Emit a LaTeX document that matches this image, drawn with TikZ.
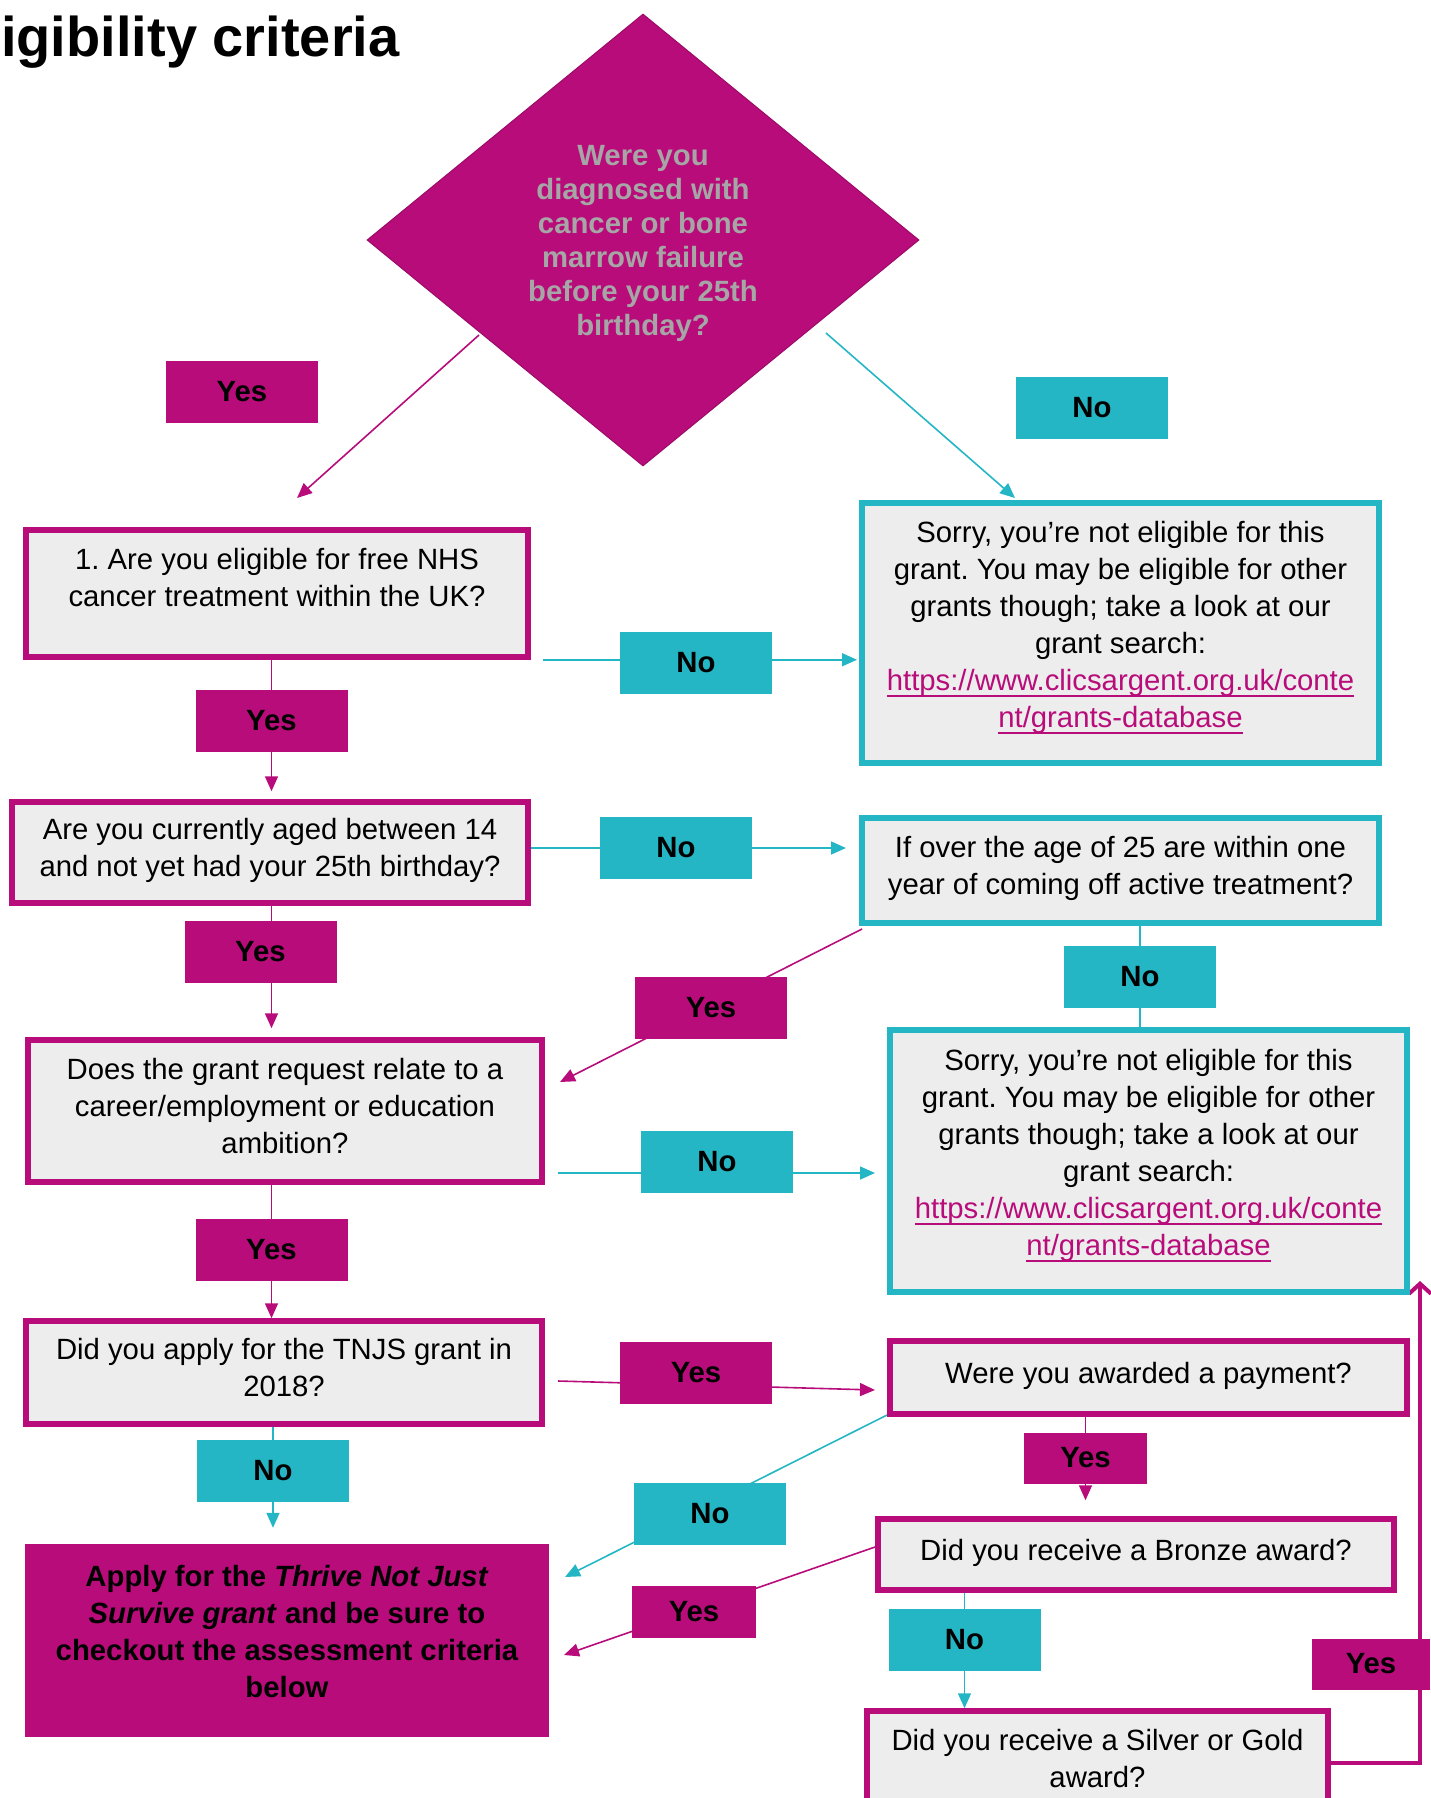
\documentclass[tikz,border=0pt]{standalone}
\usepackage{fontspec}
\setmainfont{Liberation Sans}
\usepackage{xcolor}
\usepackage{tikz}
\usetikzlibrary{arrows.meta,shapes.geometric}
\definecolor{brandmag}{HTML}{B80C7A}
\definecolor{brandcyan}{HTML}{24B6C4}
\definecolor{boxfill}{HTML}{EDEDED}
\definecolor{qgrey}{HTML}{A6A6A6}
\pgfdeclarelayer{back}
\pgfsetlayers{back,main}
\frenchspacing
\newcommand{\bodyfont}{\fontsize{29.3}{37}\selectfont}
\newcommand{\labfont}{\fontsize{29.3}{35}\selectfont\bfseries}
\newcommand{\diafont}{\fontsize{29.3}{34}\selectfont\bfseries}
\newcommand{\headfont}{\fontsize{56}{60}\selectfont\bfseries}
\newcommand{\weblink}[1]{\textcolor{brandmag}{\setbox0\hbox{#1}\rlap{\rule[-7pt]{\wd0}{2.6pt}}\box0}}
\tikzset{
  qbox/.style={draw=brandmag, line width=5.5pt, fill=boxfill, align=center, inner sep=0pt,
    font=\bodyfont, text depth=10pt},
  sorry/.style={qbox, draw=brandcyan, line width=6pt, text depth=18pt},
  endbox/.style={fill=brandmag, align=center, inner sep=0pt, font=\bodyfont\bfseries, text depth=18pt},
  yeslab/.style={fill=brandmag, minimum width=152pt, minimum height=62pt, inner sep=0pt, font=\labfont},
  nolab/.style={yeslab, fill=brandcyan},
  yesline/.style={draw=brandmag, line width=1.6pt, -{Triangle[length=15pt,width=13pt]}},
  noline/.style={draw=brandcyan, line width=1.6pt, -{Triangle[length=15pt,width=13pt]}},
  backline/.style={draw=brandmag, line width=4pt, -{Straight Barb[length=10pt,width=22pt]}},
  decision/.style={diamond, aspect=1.22, fill=brandmag, draw=brandmag!85!black, line width=1pt,
    inner sep=0pt, text=qgrey, align=center, font=\diafont, text depth=0pt}
}

\begin{document}
\begin{tikzpicture}[x=1pt, y=-1pt]
  \useasboundingbox (0,0) rectangle (1430,1798);
  \node[font=\headfont, anchor=base west, inner sep=0pt] (title) at (1,57) {igibility criteria};

  % questions
  \node[decision, minimum width=552pt, minimum height=452pt] (q0) at (643,240)
    {Were you\\diagnosed with\\cancer or bone\\marrow failure\\before your 25th\\birthday?};
  \node[qbox, minimum width=502pt, minimum height=127pt, text depth=32pt] (boxA) at (277,593.5)
    {1. Are you eligible for free NHS\\cancer treatment within the UK?};
  \node[sorry, minimum width=517pt, minimum height=260pt] (s1) at (1120.5,633)
    {Sorry, you’re not eligible for this\\grant. You may be eligible for other\\grants though; take a look at our\\grant search:\\\weblink{https://www.clicsargent.org.uk/conte}\\\weblink{nt/grants-database}};
  \node[qbox, minimum width=516pt, minimum height=101pt] (boxB) at (270,852.5)
    {Are you currently aged between 14\\and not yet had your 25th birthday?};
  \node[sorry, minimum width=517pt, minimum height=105pt, text depth=10pt] (boxC) at (1120.5,870.5)
    {If over the age of 25 are within one\\year of coming off active treatment?};
  \node[qbox, minimum width=514pt, minimum height=142pt] (boxD) at (285,1111)
    {Does the grant request relate to a\\career/employment or education\\ambition?};
  \node[sorry, minimum width=517pt, minimum height=262pt] (s2) at (1148.5,1161)
    {Sorry, you’re not eligible for this\\grant. You may be eligible for other\\grants though; take a look at our\\grant search:\\\weblink{https://www.clicsargent.org.uk/conte}\\\weblink{nt/grants-database}};
  \node[qbox, minimum width=516pt, minimum height=103pt] (boxE) at (284,1372.5)
    {Did you apply for the TNJS grant in\\2018?};
  \node[qbox, minimum width=517pt, minimum height=73pt] (boxF) at (1148.5,1377.5)
    {Were you awarded a payment?};
  \node[endbox, minimum width=524pt, minimum height=193pt] (boxG) at (287,1640.5)
    {Apply for the \textit{Thrive Not Just}\\\textit{Survive grant} and be sure to\\checkout the assessment criteria\\below};
  \node[qbox, minimum width=516pt, minimum height=71pt] (boxH) at (1136,1554.5)
    {Did you receive a Bronze award?};
  \node[qbox, minimum width=461pt, minimum height=104pt] (boxI) at (1097.5,1763)
    {Did you receive a Silver or Gold\\award?};

  % answers
  \node[yeslab] (yes0) at (242,392) {Yes};
  \node[nolab] (no0) at (1092,408) {No};
  \node[nolab] (no1) at (696,663) {No};
  \node[yeslab] (yes1) at (271.5,721) {Yes};
  \node[nolab] (no2) at (676,848) {No};
  \node[yeslab] (yes2) at (260.5,952) {Yes};
  \node[yeslab] (yes3) at (711,1008) {Yes};
  \node[nolab] (no3) at (1140,977) {No};
  \node[nolab] (no4) at (717,1162) {No};
  \node[yeslab] (yes4) at (271.5,1250) {Yes};
  \node[yeslab] (yes5) at (696,1373) {Yes};
  \node[nolab] (no5) at (273,1471) {No};
  \node[yeslab, minimum width=123pt, minimum height=51pt] (yes6) at (1085.5,1458) {Yes};
  \node[nolab] (no6) at (710,1514) {No};
  \node[yeslab, minimum width=124pt, minimum height=52pt] (yes7) at (694,1612) {Yes};
  \node[nolab] (no7) at (964.5,1640) {No};
  \node[yeslab, minimum width=118pt, minimum height=51pt] (yes8) at (1371,1664) {Yes};

  \coordinate (q0yes) at (479,335);
  \coordinate (aIn) at (297,498);
  \coordinate (q0no) at (826,333);
  \coordinate (s1In) at (1015,498);
  \coordinate (cOut) at (862,929);
  \coordinate (dIn) at (560,1082);
  \coordinate (dOut) at (558,1173);
  \coordinate (eOut) at (558,1381);
  \coordinate (fIn) at (875,1390);
  \coordinate (fOut) at (887,1415);
  \coordinate (gInA) at (565,1577);
  \coordinate (hOut) at (875,1547);
  \coordinate (gInB) at (564,1655);
  \coordinate (s2In) at (1420,1281);

  \begin{pgfonlayer}{back}
    \draw[yesline] (q0yes) -- (aIn);
    \draw[noline] (q0no) -- (s1In);
    \draw[noline, shorten <=12pt, shorten >=2pt] (boxA.south east) -- (boxA.south east -| s1.west);
    \draw[yesline, shorten >=8pt] (boxA.south -| yes1) -- (boxB.north -| yes1);
    \draw[noline, shorten >=13pt] (boxB.east |- no2) -- (no2 -| boxC.west);
    \draw[yesline, shorten >=9pt] (boxB.south -| yes1) -- (boxD.north -| yes1);
    \draw[yesline] (cOut) -- (dIn);
    \draw[draw=brandcyan, line width=1.6pt] (boxC.south -| no3) -- (s2.north -| no3);
    \draw[noline, shorten >=12pt] (dOut) -- (dOut -| s2.west);
    \draw[yesline] (boxD.south -| yes4) -- (boxE.north -| yes4);
    \draw[yesline] (eOut) -- (fIn);
    \draw[noline, shorten >=16pt] (boxE.south -| no5) -- (boxG.north -| no5);
    \draw[yesline, shorten >=16pt] (boxF.south -| yes6) -- (boxH.north -| yes6);
    \draw[noline] (fOut) -- (gInA);
    \draw[yesline] (hOut) -- (gInB);
    \draw[noline] (boxH.south -| no7) -- (boxI.north -| no7);
    \draw[backline] (boxI.east) -| (s2In);
  \end{pgfonlayer}
\end{tikzpicture}
\end{document}
